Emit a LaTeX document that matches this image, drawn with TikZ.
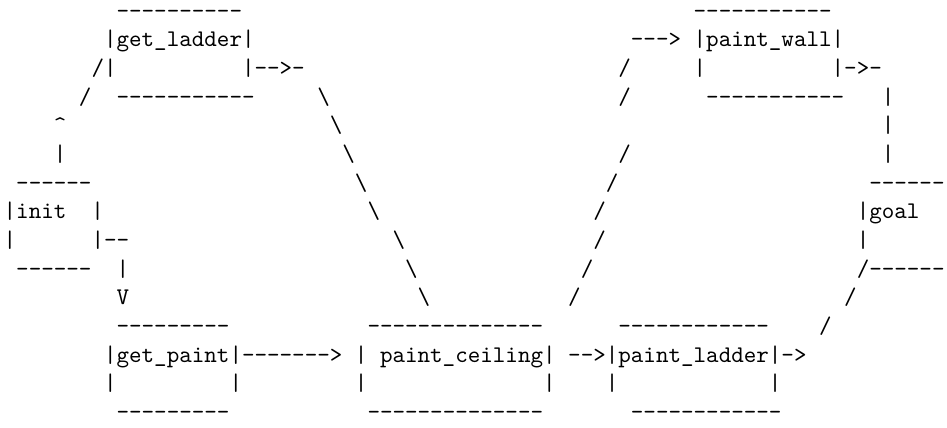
\documentclass[tikz,border=0pt]{standalone}
\begin{document}
\begin{tikzpicture}[x=5.25pt,y=-12pt,
  asc/.style={anchor=base west, inner sep=0pt, outer sep=0pt, font=\ttfamily}]
% character grid: one unit = one monospace column / one text line
\fill[white] (-0.295,0.369) rectangle (75.195,15.295);
\useasboundingbox (-0.295,0.369) rectangle (75.195,15.295);
\newcommand\bs{\textbackslash}
% row 1
\node[asc] (ladtop)  at (9,1)  {----------};
\node[asc] (walltop) at (55,1) {-----------};
% row 2
\node[asc] (ladder)  at (8,2)  {|get\_ladder|};
\node[asc] (wallin)  at (50,2) {--->};
\node[asc] (wall)    at (55,2) {|paint\_wall|};
% row 3
\node[asc] (up3)     at (7,3)  {/|};
\node[asc] (ladout)  at (19,3) {|-->-};
\node[asc] (r3a)     at (49,3) {/};
\node[asc] (wallL3)  at (55,3) {|};
\node[asc] (wallout) at (66,3) {|->-};
% row 4
\node[asc] (up4)     at (6,4)  {/};
\node[asc] (ladbot)  at (9,4)  {-----------};
\node[asc] (d4)      at (25,4) {\bs};
\node[asc] (r4)      at (49,4) {/};
\node[asc] (wallbot) at (56,4) {-----------};
\node[asc] (v4)      at (70,4) {|};
% row 5
\node[asc] (tip5)    at (4,5)  {\textasciicircum};
\node[asc] (d5)      at (26,5) {\bs};
\node[asc] (v5)      at (70,5) {|};
% row 6
\node[asc] (stem6)   at (4,6)  {|};
\node[asc] (d6)      at (27,6) {\bs};
\node[asc] (r6)      at (49,6) {/};
\node[asc] (v6)      at (70,6) {|};
% row 7
\node[asc] (inittop) at (1,7)  {------};
\node[asc] (d7)      at (28,7) {\bs};
\node[asc] (r7)      at (48,7) {/};
\node[asc] (goaltop) at (69,7) {------};
% row 8
\node[asc] (init)    at (0,8)  {|init~~|};
\node[asc] (d8)      at (29,8) {\bs};
\node[asc] (r8)      at (47,8) {/};
\node[asc] (goal)    at (68,8) {|goal};
% row 9
\node[asc] (initout) at (0,9)  {|~~~~~~|--};
\node[asc] (d9)      at (31,9) {\bs};
\node[asc] (r9)      at (47,9) {/};
\node[asc] (goalL9)  at (68,9) {|};
% row 10
\node[asc] (initbot) at (1,10) {------};
\node[asc] (dn10)    at (9,10) {|};
\node[asc] (d10)     at (32,10) {\bs};
\node[asc] (r10)     at (46,10) {/};
\node[asc] (goalbot) at (68,10) {/------};
% row 11
\node[asc] (tip11)   at (9,11) {V};
\node[asc] (d11)     at (33,11) {\bs};
\node[asc] (r11)     at (45,11) {/};
\node[asc] (g11)     at (67,11) {/};
% row 12
\node[asc] (gptop)   at (9,12)  {---------};
\node[asc] (pctop)   at (29,12) {--------------};
\node[asc] (pltop)   at (49,12) {------------};
\node[asc] (g12)     at (65,12) {/};
% row 13
\node[asc] (getpaint) at (8,13)  {|get\_paint|------->};
\node[asc] (ceiling)  at (28,13) {|~paint\_ceiling|};
\node[asc] (plad)     at (45,13) {-->|paint\_ladder|->};
% row 14
\node[asc] (gpL)     at (8,14)  {|};
\node[asc] (gpR)     at (18,14) {|};
\node[asc] (pcL)     at (28,14) {|};
\node[asc] (pcR)     at (43,14) {|};
\node[asc] (plL)     at (48,14) {|};
\node[asc] (plR)     at (61,14) {|};
% row 15
\node[asc] (gpbot)   at (9,15)  {---------};
\node[asc] (pcbot)   at (29,15) {--------------};
\node[asc] (plbot)   at (50,15) {------------};
\end{tikzpicture}
\end{document}
